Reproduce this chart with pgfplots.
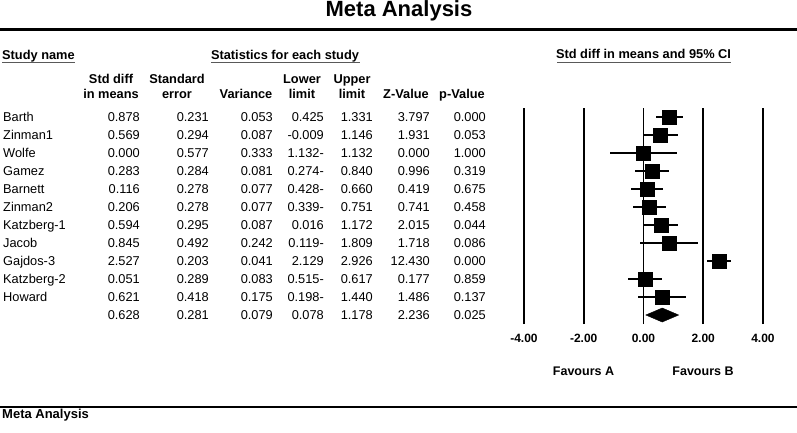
\documentclass[border=0pt]{standalone}
\usepackage{fontspec}
\setmainfont{Liberation Sans}
\usepackage{pgfplots}
\usepackage{pgfplotstable}
\pgfplotsset{compat=1.18}

% y = plotting row (Barth = 12 ... Howard = 2)
\pgfplotstableread{
y est lo hi
12 0.878 0.425 1.331
11 0.569 -0.009 1.146
10 0.000 -1.132 1.132
9 0.283 -0.274 0.840
8 0.116 -0.428 0.660
7 0.206 -0.339 0.751
6 0.594 0.016 1.172
5 0.845 -0.119 1.809
4 2.527 2.129 2.926
3 0.051 -0.515 0.617
2 0.621 -0.198 1.440
}\studies

\newcommand{\fs}{\fontsize{12.8bp}{15bp}\selectfont}
\newcommand{\trow}[9]{%
  \pgfmathsetmacro{\yb}{121.5+18*(#1-1)}%
  \node[anchor=base west] at (3,\yb) {#2};
  \node[anchor=base east] at (140,\yb) {#3};
  \node[anchor=base east] at (209,\yb) {#4};
  \node[anchor=base east] at (273,\yb) {#5};
  \node[anchor=base east] at (324,\yb) {#6};
  \node[anchor=base east] at (373,\yb) {#7};
  \node[anchor=base east] at (430,\yb) {#8};
  \node[anchor=base east] at (486,\yb) {#9};
}

\begin{document}
\begin{tikzpicture}
\begin{scope}[x=1bp,y=-1bp,every node/.style={inner sep=0pt,font=\fs}]
  \useasboundingbox (0,0) rectangle (797,432);
  % title
  \node[anchor=base,font=\fontsize{22bp}{26bp}\selectfont\bfseries] at (399,16.7) {Meta Analysis};
  \draw[line width=2.4bp] (0,29.5) -- (797,29.5);
  % group headings
  \node[anchor=base west,font=\fs\bfseries] at (2,59) {Study name};
  \draw[black!65,line width=1bp] (2,62.5) -- (75,62.5);
  \node[anchor=base,font=\fs\bfseries] at (285,59) {Statistics for each study};
  \draw[black!65,line width=1bp] (211,62.5) -- (360,62.5);
  \node[anchor=base,font=\fs\bfseries] at (643.5,58.5) {Std diff in means and 95\% CI};
  \draw[black!65,line width=1bp] (557,62.5) -- (731,62.5);
  % column headers
  \begin{scope}[every node/.append style={anchor=base,font=\fs\bfseries}]
    \node at (111,83) {Std diff};
    \node at (111,98.5) {in means};
    \node at (177,83) {Standard};
    \node at (177,98.5) {error};
    \node at (246,98.5) {Variance};
    \node at (302,83) {Lower};
    \node at (302,98.5) {limit};
    \node at (352,83) {Upper};
    \node at (352,98.5) {limit};
    \node at (406,98.5) {Z-Value};
    \node at (462,98.5) {p-Value};
  \end{scope}
  % table rows
  \trow{1}{Barth}{0.878}{0.231}{0.053}{0.425}{1.331}{3.797}{0.000}
  \trow{2}{Zinman1}{0.569}{0.294}{0.087}{-0.009}{1.146}{1.931}{0.053}
  \trow{3}{Wolfe}{0.000}{0.577}{0.333}{1.132-}{1.132}{0.000}{1.000}
  \trow{4}{Gamez}{0.283}{0.284}{0.081}{0.274-}{0.840}{0.996}{0.319}
  \trow{5}{Barnett}{0.116}{0.278}{0.077}{0.428-}{0.660}{0.419}{0.675}
  \trow{6}{Zinman2}{0.206}{0.278}{0.077}{0.339-}{0.751}{0.741}{0.458}
  \trow{7}{Katzberg-1}{0.594}{0.295}{0.087}{0.016}{1.172}{2.015}{0.044}
  \trow{8}{Jacob}{0.845}{0.492}{0.242}{0.119-}{1.809}{1.718}{0.086}
  \trow{9}{Gajdos-3}{2.527}{0.203}{0.041}{2.129}{2.926}{12.430}{0.000}
  \trow{10}{Katzberg-2}{0.051}{0.289}{0.083}{0.515-}{0.617}{0.177}{0.859}
  \trow{11}{Howard}{0.621}{0.418}{0.175}{0.198-}{1.440}{1.486}{0.137}
  \trow{12}{}{0.628}{0.281}{0.079}{0.078}{1.178}{2.236}{0.025}
  % favours
  \node[anchor=base,font=\fontsize{12.5bp}{15bp}\selectfont\bfseries] at (583.5,375) {Favours A};
  \node[anchor=base,font=\fontsize{12.5bp}{15bp}\selectfont\bfseries] at (703,375) {Favours B};
  % footer
  \draw[line width=2bp] (0,407) -- (797,407);
  \node[anchor=base west,font=\fontsize{13bp}{15bp}\selectfont\bfseries] at (2,418.5) {Meta Analysis};
\end{scope}

\begin{axis}[
  at={(515bp,-324bp)}, anchor=south west,
  scale only axis, width=256.9bp, height=216bp,
  xmin=-4.3, xmax=4.3, ymin=0.5, ymax=12.5,
  axis line style={draw=none}, tick style={draw=none},
  ytick=\empty,
  xtick={-4,-2,0,2,4},
  xticklabels={-4.00,-2.00,0.00,2.00,4.00},
  xticklabel style={font=\fontsize{12bp}{14bp}\selectfont\bfseries, anchor=north, inner sep=0pt, yshift=-9.5bp},
  xmajorgrids, major grid style={black, line width=1.8bp},
  clip=false,
]
\addplot[black, only marks, mark=square*, mark size=7bp,
  error bars/.cd, x dir=both, x explicit, error mark=none,
  error bar style={black, line width=2bp}]
  table[x=est, y=y,
    x error plus expr=\thisrow{hi}-\thisrow{est},
    x error minus expr=\thisrow{est}-\thisrow{lo}] {\studies};
\addplot[black, fill=black] coordinates {(0.078,1) (0.628,1.39) (1.178,1) (0.628,0.61)} -- cycle;
\end{axis}
\end{tikzpicture}
\end{document}
